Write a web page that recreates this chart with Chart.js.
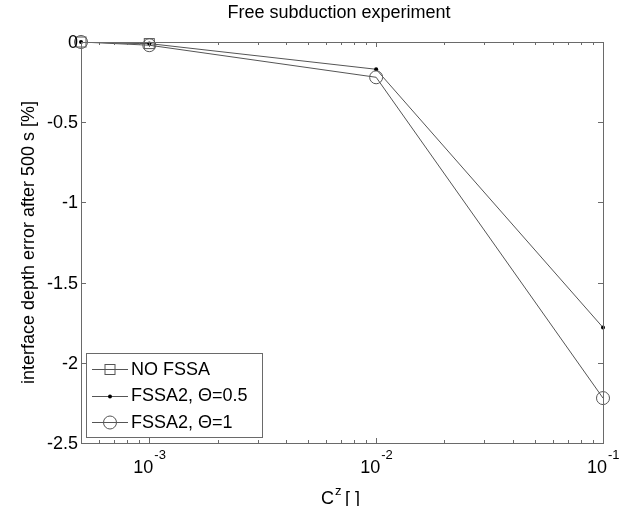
<!DOCTYPE html>
<html>
<head>
<meta charset="utf-8">
<script src="https://cdn.jsdelivr.net/npm/chart.js@4.4.1/dist/chart.umd.min.js"></script>
<style>
  html, body { margin: 0; padding: 0; background: #fff; }
  #wrap { width: 619px; height: 506px; }
</style>
</head>
<body>
<div id="wrap"><canvas id="chart" width="619" height="506"></canvas></div>
<script>
const xValues = [5e-4, 1e-3, 1e-2, 1e-1];
const noFssa = [0, -0.01];
const fssaHalf = [0, -0.01, -0.17, -1.78];
const fssaOne = [0, -0.02, -0.22, -2.22];
const yTicks = [0, -0.5, -1, -1.5, -2, -2.5];
const xMajor = [1e-3, 1e-2, 1e-1];
const xMajorLabels = [['10', '-3'], ['10', '-2'], ['10', '-1']];
const labels = ['NO FSSA', 'FSSA2, \u0398=0.5', 'FSSA2, \u0398=1'];

const FONT = '"Liberation Sans", Arial, sans-serif';
const LINE = '#555555';
const AXIS = '#6a6a6a';

function toPoints(vals) {
    return vals.map((v, i) => ({ x: xValues[i], y: v }));
}

function drawMarker(ctx, style, x, y) {
    ctx.save();
    ctx.strokeStyle = LINE;
    ctx.lineWidth = 1;
    if (style === 'rect') {
        ctx.strokeRect(x - 5, y - 5, 10, 10);
    } else if (style === 'circle') {
        ctx.beginPath();
        ctx.arc(x, y, 6.5, 0, Math.PI * 2);
        ctx.stroke();
    } else {
        ctx.fillStyle = '#000';
        ctx.beginPath();
        ctx.arc(x, y, 2, 0, Math.PI * 2);
        ctx.fill();
    }
    ctx.restore();
}

const markerPlugin = {
    id: 'markers',
    afterDatasetsDraw(chart) {
        const ctx = chart.ctx;
        chart.data.datasets.forEach((ds, i) => {
            const meta = chart.getDatasetMeta(i);
            meta.data.forEach(pt => drawMarker(ctx, ds.marker, pt.x, pt.y));
        });
    }
};

const framePlugin = {
    id: 'frame',
    afterDraw(chart) {
        const ctx = chart.ctx;
        const a = chart.chartArea;
        const xs = chart.scales.x;
        const ys = chart.scales.y;
        ctx.save();
        ctx.strokeStyle = AXIS;
        ctx.lineWidth = 1;
        ctx.strokeRect(Math.round(a.left) + 0.5, Math.round(a.top) + 0.5,
            Math.round(a.right - a.left), Math.round(a.bottom - a.top));

        // y ticks, inward on both sides
        ctx.fillStyle = '#000';
        ctx.font = '18px ' + FONT;
        ctx.textAlign = 'right';
        ctx.textBaseline = 'middle';
        yTicks.forEach(v => {
            const py = Math.round(ys.getPixelForValue(v)) + 0.5;
            ctx.beginPath();
            ctx.moveTo(a.left, py); ctx.lineTo(a.left + 5, py);
            ctx.moveTo(a.right, py); ctx.lineTo(a.right - 5, py);
            ctx.stroke();
            ctx.fillText(String(v), a.left - 3, py + 1);
        });

        // x ticks, major + minor
        const drawXTick = (v, len) => {
            const px = Math.round(xs.getPixelForValue(v)) + 0.5;
            if (px < a.left || px > a.right + 1) return;
            ctx.beginPath();
            ctx.moveTo(px, a.bottom); ctx.lineTo(px, a.bottom - len);
            ctx.moveTo(px, a.top); ctx.lineTo(px, a.top + len);
            ctx.stroke();
        };
        [1e-4, 1e-3, 1e-2].forEach(dec => {
            for (let m = 2; m <= 9; m++) drawXTick(dec * m, 3);
        });
        xMajor.forEach(v => drawXTick(v, 5));

        xMajor.forEach((v, i) => {
            const px = xs.getPixelForValue(v);
            ctx.font = '18px ' + FONT;
            ctx.textAlign = 'center';
            ctx.textBaseline = 'alphabetic';
            const base = xMajorLabels[i][0];
            const w = ctx.measureText(base).width;
            ctx.fillText(base, px - 6, 473);
            ctx.font = '13px ' + FONT;
            ctx.textAlign = 'left';
            ctx.fillText(xMajorLabels[i][1], px - 6 + w / 2 + 1, 459);
        });

        // title and axis titles
        ctx.font = '18px ' + FONT;
        ctx.textAlign = 'center';
        ctx.textBaseline = 'middle';
        ctx.fillText('Free subduction experiment', (a.left + a.right) / 2 - 3, 13);

        ctx.textAlign = 'left';
        ctx.textBaseline = 'alphabetic';
        const cx = 321;
        ctx.fillText('C', cx, 504);
        const cw = ctx.measureText('C').width;
        ctx.font = '13px ' + FONT;
        ctx.fillText('z', cx + cw + 1, 495);
        ctx.font = '18px ' + FONT;
        ctx.fillText('[ ]', cx + cw + 11, 504);

        ctx.save();
        ctx.translate(29, (a.top + a.bottom) / 2);
        ctx.rotate(-Math.PI / 2);
        ctx.textAlign = 'center';
        ctx.textBaseline = 'middle';
        ctx.fillText('interface depth error after 500 s [%]', 0, 0);
        ctx.restore();

        // legend box in lower-left corner
        const lx = 86, ly = 353, lw = 176, lh = 84;
        ctx.fillStyle = '#fff';
        ctx.fillRect(lx, ly, lw, lh);
        ctx.strokeStyle = AXIS;
        ctx.strokeRect(lx + 0.5, ly + 0.5, lw, lh);
        chart.data.datasets.forEach((ds, i) => {
            const ry = ly + 16 + i * 26.5;
            ctx.strokeStyle = LINE;
            ctx.beginPath();
            ctx.moveTo(lx + 6, Math.round(ry) + 0.5);
            ctx.lineTo(lx + 42, Math.round(ry) + 0.5);
            ctx.stroke();
            drawMarker(ctx, ds.marker, lx + 24, Math.round(ry) + 0.5);
            ctx.fillStyle = '#000';
            ctx.font = '18px ' + FONT;
            ctx.textAlign = 'left';
            ctx.textBaseline = 'middle';
            ctx.fillText(ds.label, lx + 45, ry + 1);
        });
        ctx.restore();
    }
};

const lineStyle = {
    borderColor: LINE,
    borderWidth: 1,
    pointRadius: 0,
    pointHoverRadius: 0,
    tension: 0,
    fill: false
};

new Chart(document.getElementById('chart'), {
    type: 'line',
    data: {
        datasets: [
            Object.assign({ label: labels[0], data: toPoints(noFssa), marker: 'rect' }, lineStyle),
            Object.assign({ label: labels[1], data: toPoints(fssaHalf), marker: 'dot' }, lineStyle),
            Object.assign({ label: labels[2], data: toPoints(fssaOne), marker: 'circle' }, lineStyle)
        ]
    },
    options: {
        responsive: false,
        animation: false,
        events: [],
        layout: { padding: { left: 81, top: 42, right: 16, bottom: 63 } },
        plugins: { legend: { display: false }, tooltip: { enabled: false } },
        scales: {
            x: { type: 'logarithmic', min: 5e-4, max: 1e-1, display: false },
            y: { type: 'linear', min: -2.5, max: 0, display: false }
        }
    },
    plugins: [markerPlugin, framePlugin]
});
</script>
</body>
</html>
